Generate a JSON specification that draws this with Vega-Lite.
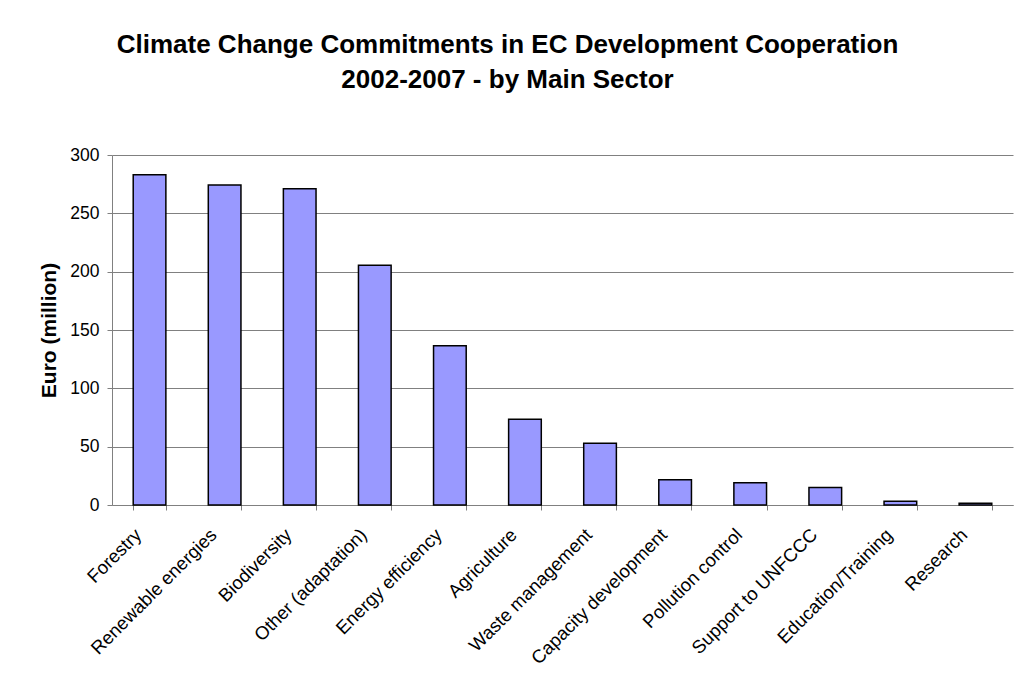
{
  "$schema": "https://vega.github.io/schema/vega-lite/v6.json",
  "autosize": "none",
  "width": 901,
  "height": 350,
  "padding": {"left": 112, "top": 155, "right": 1, "bottom": 172},
  "background": "white",
  "title": {
    "text": ["Climate Change Commitments in EC Development Cooperation", "2002-2007 - by Main Sector"],
    "font": "Liberation Sans",
    "fontSize": 26,
    "fontWeight": "bold",
    "color": "black",
    "anchor": "middle",
    "dx": -55,
    "offset": 53,
    "lineHeight": 35
  },
  "data": {
    "values": [
      {"sector": "Forestry", "value": 283},
      {"sector": "Renewable energies", "value": 274.3},
      {"sector": "Biodiversity", "value": 271},
      {"sector": "Other (adaptation)", "value": 205.5},
      {"sector": "Energy efficiency", "value": 136.5},
      {"sector": "Agriculture", "value": 73.5},
      {"sector": "Waste management", "value": 53},
      {"sector": "Capacity development", "value": 21.7},
      {"sector": "Pollution control", "value": 19},
      {"sector": "Support to UNFCCC", "value": 14.9},
      {"sector": "Education/Training", "value": 3.3},
      {"sector": "Research", "value": 1.5}
    ]
  },
  "mark": {"type": "bar", "fill": "#9999FF", "stroke": "black", "strokeWidth": 1.5},
  "encoding": {
    "x": {
      "field": "sector",
      "type": "nominal",
      "sort": null,
      "scale": {"paddingInner": 0.565, "paddingOuter": 0.2825},
      "axis": {
        "title": null,
        "labelAngle": -45,
        "labelFont": "Liberation Sans",
        "labelFontSize": 18.5,
        "labelColor": "black",
        "labelPadding": 15,
        "labelOffset": -18,
        "domainColor": "#808080",
        "tickColor": "#808080",
        "tickSize": 5,
        "tickBand": "extent",
        "labelLimit": 400
      }
    },
    "y": {
      "field": "value",
      "type": "quantitative",
      "scale": {"domain": [0, 300], "nice": false},
      "axis": {
        "title": "Euro (million)",
        "titleFont": "Liberation Sans",
        "titleFontSize": 21,
        "titleFontWeight": "bold",
        "titleColor": "black",
        "titlePadding": 10,
        "values": [0, 50, 100, 150, 200, 250, 300],
        "labelFont": "Liberation Sans",
        "labelFontSize": 17.5,
        "labelColor": "black",
        "labelPadding": 8,
        "domainColor": "#808080",
        "tickColor": "#808080",
        "tickSize": 5,
        "gridColor": "#808080",
        "gridOpacity": 1
      }
    }
  },
  "config": {"view": {"stroke": null}}
}
